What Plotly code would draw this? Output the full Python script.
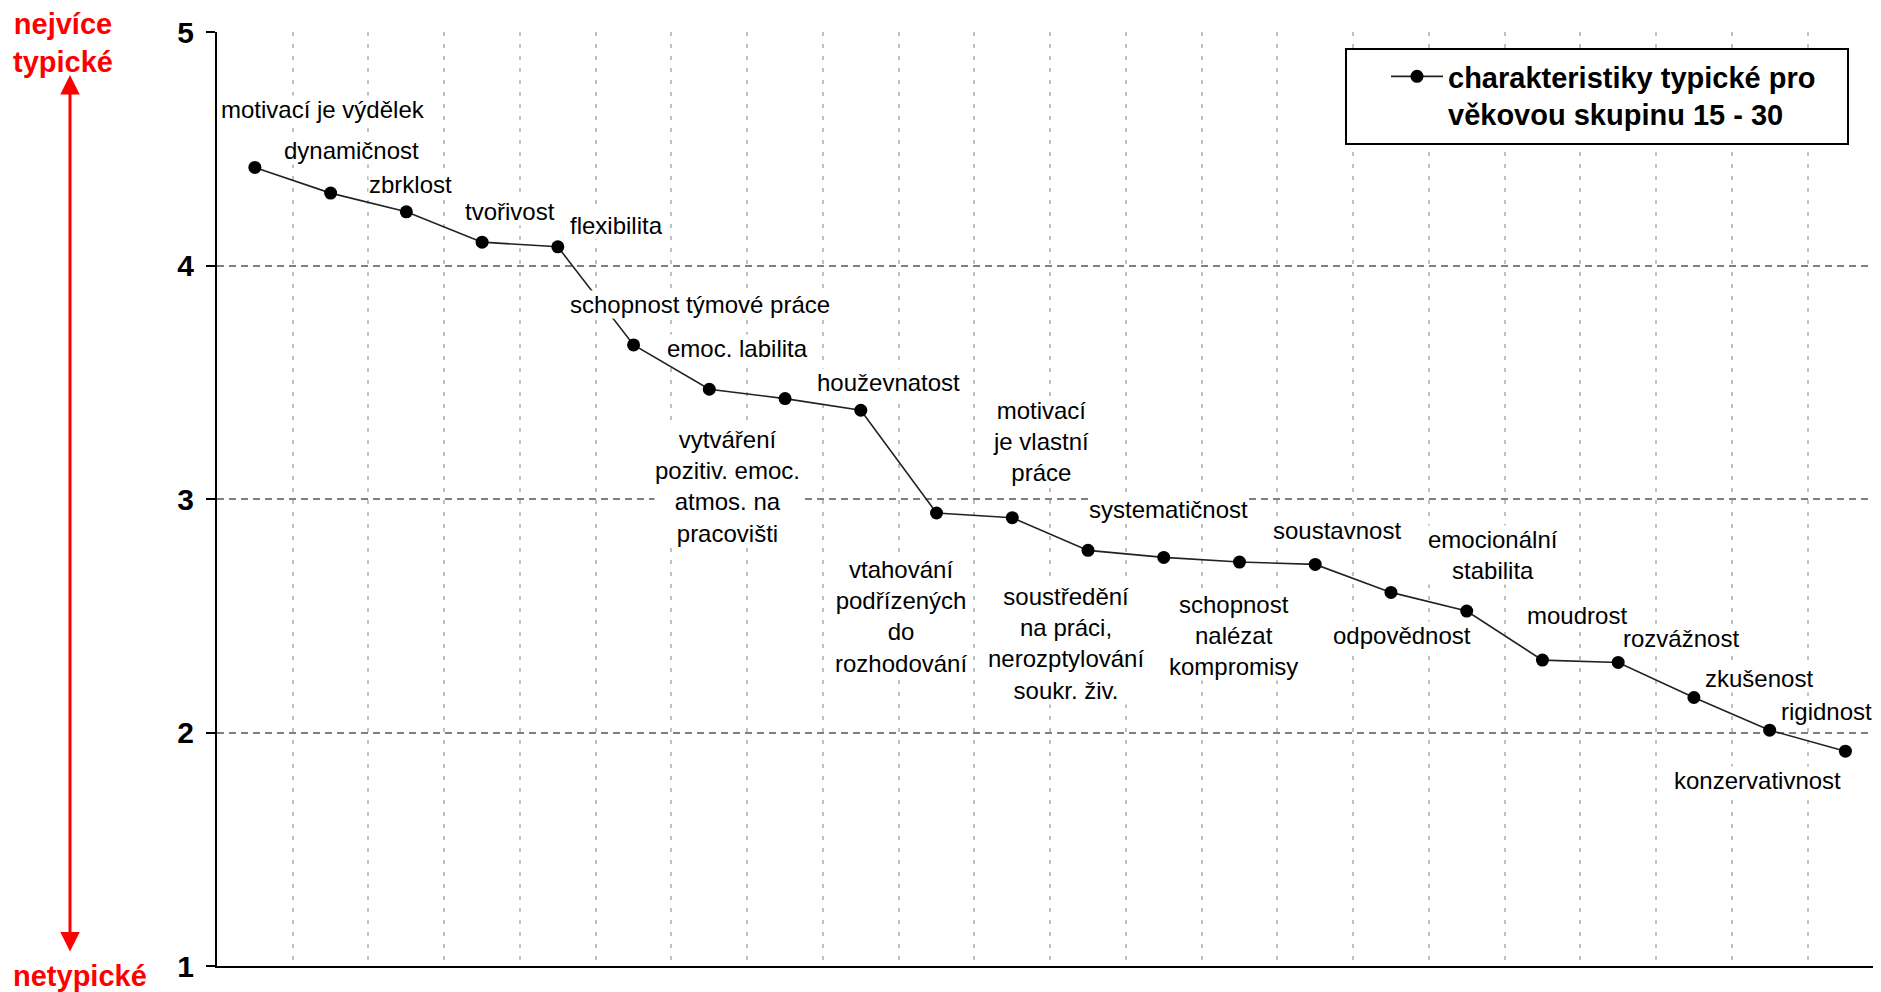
import plotly.graph_objects as go

# charakteristiky seřazené podle průměrného hodnocení
charakteristiky = [
    "motivací je výdělek",
    "dynamičnost",
    "zbrklost",
    "tvořivost",
    "flexibilita",
    "schopnost týmové práce",
    "emoc. labilita",
    "vytváření<br>pozitiv. emoc.<br>atmos. na<br>pracovišti",
    "houževnatost",
    "vtahování<br>podřízených<br>do<br>rozhodování",
    "motivací<br>je vlastní<br>práce",
    "soustředění<br>na práci,<br>nerozptylování<br>soukr. živ.",
    "systematičnost",
    "schopnost<br>nalézat<br>kompromisy",
    "soustavnost",
    "odpovědnost",
    "emocionální<br>stabilita",
    "moudrost",
    "rozvážnost",
    "zkušenost",
    "rigidnost",
    "konzervativnost",
]
hodnoty = [4.42, 4.31, 4.23, 4.10, 4.08, 3.66, 3.47, 3.43, 3.38, 2.94, 2.92,
           2.78, 2.75, 2.73, 2.72, 2.60, 2.52, 2.31, 2.30, 2.15, 2.01, 1.92]
y_ticks = [1, 2, 3, 4, 5]

# label placement relative to its point (px, +down)
label_offsets = [
    (68, -58), (21, -43), (4, -27), (28, -31), (59, -21), (66, -40),
    (28, -41), (-58, 88), (28, -28), (-36, 103), (29, -76), (-22, 93),
    (5, -48), (-6, 73), (22, -34), (11, 43), (26, -56), (35, -45),
    (63, -24), (65, -19), (57, -19), (-88, 29),
]

FONT = "Liberation Sans, Arial, sans-serif"
PAGE = 8  # body margin of the html page
W, H = 1881 - PAGE, 992 - PAGE
L, T = 217 - PAGE, 32 - PAGE
R, B = 0, H - (966 - PAGE)
pw, ph = W - L - R, H - T - B


def px_x(px):
    return (px - PAGE - L) / pw


def px_y(py):
    return (H - B - (py - PAGE)) / ph


fig = go.Figure()
fig.add_trace(go.Scatter(
    x=charakteristiky, y=hodnoty,
    mode="lines+markers",
    name="<b>charakteristiky typické pro</b><br><b>věkovou skupinu 15 - 30</b>",
    line=dict(color="#222222", width=1.6),
    marker=dict(color="black", size=13),
))

for name, val, (dx, dy) in zip(charakteristiky, hodnoty, label_offsets):
    fig.add_annotation(
        x=name, y=val, text=name, showarrow=False,
        xshift=dx, yshift=-dy, xanchor="center", yanchor="middle",
        font=dict(family=FONT, size=24, color="black"),
        bgcolor="white", borderpad=0,
    )

# side description with double arrow
fig.add_annotation(
    xref="paper", yref="paper", x=px_x(63), y=px_y(43),
    text="<b>nejvíce<br>typické</b>", showarrow=False,
    xanchor="center", yanchor="middle",
    font=dict(family=FONT, size=29, color="#ff0000"),
)
fig.add_annotation(
    xref="paper", yref="paper", x=px_x(80), y=px_y(976),
    text="<b>netypické</b>", showarrow=False,
    xanchor="center", yanchor="middle",
    font=dict(family=FONT, size=29, color="#ff0000"),
)
fig.add_annotation(
    xref="paper", yref="paper", x=px_x(70), y=px_y(75),
    ax=0, ay=878, axref="pixel", ayref="pixel",
    text="", showarrow=True, arrowside="end+start",
    arrowhead=2, startarrowhead=2, arrowsize=1.3, startarrowsize=1.3,
    arrowwidth=3, arrowcolor="#ff0000", standoff=0, startstandoff=0,
)

# legend frame
fig.add_shape(
    type="rect", xref="paper", yref="paper",
    x0=px_x(1346), x1=px_x(1848), y0=px_y(144), y1=px_y(49),
    line=dict(color="black", width=2), fillcolor="white", layer="above",
)

fig.update_layout(
    width=W, height=H,
    margin=dict(l=L, r=R, t=T, b=B),
    paper_bgcolor="white", plot_bgcolor="white",
    font=dict(family=FONT, color="black"),
    showlegend=True,
    legend=dict(
        x=px_x(1386), y=px_y(51), xanchor="left", yanchor="top",
        bgcolor="rgba(0,0,0,0)", borderwidth=0, valign="top",
        itemwidth=52, tracegroupgap=0,
        font=dict(family=FONT, size=29, color="black"),
    ),
    xaxis=dict(
        type="category", range=[-0.5, 21.47], tickson="boundaries",
        showticklabels=False, ticks="",
        showgrid=True, gridcolor="#c0c0c0", gridwidth=2, griddash="4px,8px",
        showline=True, linecolor="black", linewidth=2,
        zeroline=False, fixedrange=True,
    ),
    yaxis=dict(
        range=[1, 5], tickvals=y_ticks,
        ticktext=[f"<b>{v}</b>" for v in y_ticks],
        tickfont=dict(family=FONT, size=30, color="black"),
        ticks="outside", ticklen=9, tickwidth=2, tickcolor="black",
        ticklabelstandoff=6,
        showgrid=True, gridcolor="#808080", gridwidth=2, griddash="7px,5px",
        showline=True, linecolor="black", linewidth=2,
        zeroline=False, fixedrange=True,
    ),
)

fig.write_html("out.html")
